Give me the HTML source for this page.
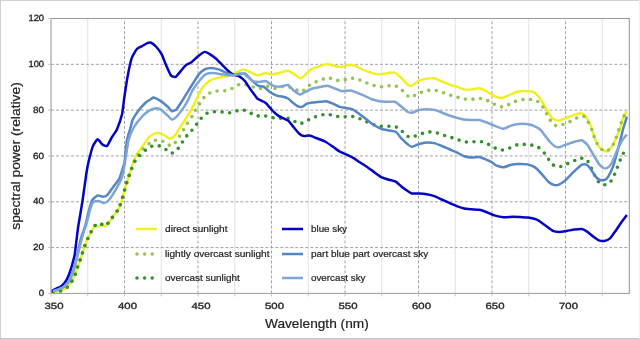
<!DOCTYPE html>
<html><head><meta charset="utf-8"><style>
html,body{margin:0;padding:0;background:#fff;}
svg{display:block;will-change:transform;}
text{font-family:"Liberation Sans",sans-serif;fill:#222;stroke:#222;stroke-width:0.2px;}
.tl{font-size:10px;stroke-width:0.35px;}
.lg{font-size:9.1px;}
.ax{font-size:12.6px;}
.gmaj{stroke:#a2a2a2;stroke-width:1;stroke-dasharray:3 1.985;fill:none;}
.gmin{stroke:#c4c4c4;stroke-width:1;stroke-dasharray:1 1;fill:none;}
.tick{stroke:#c4c4c4;stroke-width:1;}
.spine{stroke:#999;stroke-width:1;fill:none;}
.spine2{stroke:#909090;stroke-width:1;fill:none;}
path,line{fill:none;stroke-linejoin:round;}
.c_ds{stroke:#f0f01e;stroke-width:2.4;}
.c_bs{stroke:#0303c4;stroke-width:2.5;}
.c_pb{stroke:#5485c4;stroke-width:2.5;}
.c_ok{stroke:#7fa5d5;stroke-width:2.5;}
.c_lo{stroke:#92c44e;stroke-width:3.6;stroke-linecap:round;stroke-dasharray:0 7.6;}
.c_os{stroke:#34902a;stroke-width:3.6;stroke-linecap:round;stroke-dasharray:0 7.6;}
</style></head><body>
<svg width="640" height="339" viewBox="0 0 640 339">
<rect x="0" y="0" width="640" height="339" fill="#fff"/><line x1="0" y1="0.5" x2="640" y2="0.5" stroke="#d0d0d0"/><line x1="0.5" y1="0" x2="0.5" y2="339" stroke="#d0d0d0"/><line x1="0" y1="338.5" x2="640" y2="338.5" stroke="#c8c8c8"/><line x1="639.5" y1="0" x2="639.5" y2="339" stroke="#f0f0f0"/>
<line x1="87.75" y1="293.4" x2="87.75" y2="18.5" class="gmin"/><line x1="124.5" y1="293.4" x2="124.5" y2="18.5" class="gmaj"/><line x1="161.25" y1="293.4" x2="161.25" y2="18.5" class="gmin"/><line x1="198.0" y1="293.4" x2="198.0" y2="18.5" class="gmaj"/><line x1="234.75" y1="293.4" x2="234.75" y2="18.5" class="gmin"/><line x1="271.5" y1="293.4" x2="271.5" y2="18.5" class="gmaj"/><line x1="308.25" y1="293.4" x2="308.25" y2="18.5" class="gmin"/><line x1="345.0" y1="293.4" x2="345.0" y2="18.5" class="gmaj"/><line x1="381.75" y1="293.4" x2="381.75" y2="18.5" class="gmin"/><line x1="418.5" y1="293.4" x2="418.5" y2="18.5" class="gmaj"/><line x1="455.25" y1="293.4" x2="455.25" y2="18.5" class="gmin"/><line x1="492.0" y1="293.4" x2="492.0" y2="18.5" class="gmaj"/><line x1="528.75" y1="293.4" x2="528.75" y2="18.5" class="gmin"/><line x1="565.5" y1="293.4" x2="565.5" y2="18.5" class="gmaj"/><line x1="602.25" y1="293.4" x2="602.25" y2="18.5" class="gmin"/><line x1="51.0" y1="247.58" x2="629.3" y2="247.58" class="gmaj"/><line x1="51.0" y1="201.77" x2="629.3" y2="201.77" class="gmaj"/><line x1="51.0" y1="155.95" x2="629.3" y2="155.95" class="gmaj"/><line x1="51.0" y1="110.13" x2="629.3" y2="110.13" class="gmaj"/><line x1="51.0" y1="64.32" x2="629.3" y2="64.32" class="gmaj"/>
<g><path d="M53.00,292.50 C53.21,292.47 54.77,292.29 55.50,292.10 C56.23,291.91 60.71,290.72 61.75,290.25 C62.79,289.78 67.06,287.44 68.00,286.50 C68.94,285.56 72.27,280.41 73.00,279.00 C73.73,277.59 76.17,271.11 76.75,269.60 C77.33,268.09 79.43,262.28 79.90,260.90 C80.37,259.52 81.98,254.28 82.40,253.00 C82.82,251.72 84.43,246.84 84.90,245.60 C85.37,244.36 87.48,239.24 88.00,238.10 C88.52,236.96 90.52,232.94 91.10,231.90 C91.67,230.86 94.33,226.02 94.90,225.60 C95.48,225.18 97.43,227.00 98.00,226.90 C98.57,226.80 101.17,224.45 101.75,224.40 C102.33,224.35 104.28,226.46 104.90,226.25 C105.53,226.04 108.53,222.79 109.25,221.90 C109.97,221.01 112.87,216.59 113.60,215.60 C114.33,214.61 117.45,210.88 118.00,210.00 C118.55,209.12 119.78,206.29 120.20,205.10 C120.62,203.91 122.45,197.62 123.00,195.75 C123.55,193.88 126.12,184.63 126.75,182.60 C127.38,180.57 129.98,173.03 130.50,171.40 C131.02,169.77 132.52,164.37 133.00,163.00 C133.48,161.63 135.46,156.40 136.25,155.00 C137.04,153.60 141.46,147.71 142.50,146.25 C143.54,144.79 147.81,138.52 148.75,137.50 C149.69,136.48 152.92,134.37 153.75,134.00 C154.58,133.63 157.92,133.02 158.75,133.10 C159.58,133.18 162.81,134.53 163.75,135.00 C164.69,135.47 169.06,138.70 170.00,138.75 C170.94,138.80 174.17,136.54 175.00,135.60 C175.83,134.66 179.25,128.68 180.00,127.50 C180.75,126.33 183.12,122.86 184.00,121.50 C184.88,120.14 189.49,112.99 190.50,111.20 C191.51,109.41 195.16,101.89 196.10,100.00 C197.04,98.11 200.65,90.08 201.75,88.50 C202.85,86.92 207.85,81.91 209.25,81.00 C210.65,80.09 217.04,77.99 218.60,77.60 C220.16,77.21 226.59,76.72 228.00,76.30 C229.41,75.88 234.18,73.17 235.50,72.60 C236.82,72.02 242.58,69.40 243.90,69.40 C245.22,69.40 250.22,72.10 251.40,72.60 C252.58,73.10 256.82,75.36 258.00,75.40 C259.18,75.44 264.25,73.18 265.50,73.10 C266.75,73.02 271.75,74.44 273.00,74.40 C274.25,74.36 279.25,72.91 280.50,72.60 C281.75,72.29 286.82,70.55 288.00,70.70 C289.18,70.85 293.58,73.78 294.60,74.40 C295.62,75.03 299.34,78.12 300.20,78.20 C301.06,78.28 304.04,76.10 304.90,75.40 C305.76,74.70 309.33,70.50 310.50,69.75 C311.67,69.00 317.49,66.87 318.90,66.40 C320.31,65.93 326.07,64.13 327.40,64.10 C328.73,64.07 333.73,65.77 334.90,66.00 C336.07,66.23 340.31,66.98 341.40,66.90 C342.49,66.83 346.90,65.21 348.00,65.10 C349.10,64.99 353.35,65.21 354.60,65.60 C355.85,65.99 361.52,69.12 363.00,69.75 C364.48,70.38 370.99,72.71 372.40,73.10 C373.81,73.49 378.65,74.40 379.90,74.40 C381.15,74.40 386.15,73.25 387.40,73.10 C388.65,72.95 393.81,72.25 394.90,72.60 C395.99,72.95 399.41,76.24 400.50,77.25 C401.59,78.26 407.06,84.05 408.00,84.75 C408.94,85.45 410.81,86.05 411.75,85.70 C412.69,85.35 418.00,81.18 419.25,80.60 C420.50,80.02 425.50,78.95 426.75,78.75 C428.00,78.55 433.00,77.98 434.25,78.20 C435.50,78.42 440.50,80.88 441.75,81.40 C443.00,81.92 448.00,83.97 449.25,84.40 C450.50,84.83 455.50,86.18 456.75,86.60 C458.00,87.02 463.00,89.17 464.25,89.40 C465.50,89.63 470.50,89.49 471.75,89.40 C473.00,89.31 478.00,88.12 479.25,88.30 C480.50,88.47 485.50,90.84 486.75,91.50 C488.00,92.16 493.00,95.66 494.25,96.20 C495.50,96.74 500.50,98.09 501.75,98.00 C503.00,97.91 508.00,95.60 509.25,95.10 C510.50,94.60 515.44,92.34 516.75,92.00 C518.06,91.66 523.58,90.98 525.00,91.00 C526.42,91.02 532.48,91.58 533.75,92.20 C535.02,92.83 539.29,97.14 540.30,98.50 C541.31,99.86 544.88,106.84 545.90,108.50 C546.92,110.16 551.46,117.38 552.50,118.40 C553.54,119.42 557.27,120.73 558.40,120.70 C559.52,120.67 564.62,118.51 566.00,118.00 C567.38,117.49 573.75,115.00 575.00,114.60 C576.25,114.20 580.12,113.08 581.00,113.20 C581.88,113.32 584.78,115.17 585.50,116.00 C586.22,116.83 589.06,122.12 589.60,123.20 C590.14,124.28 591.62,127.89 592.00,129.00 C592.38,130.11 593.69,135.32 594.10,136.50 C594.51,137.68 596.36,142.08 596.90,143.10 C597.44,144.12 599.82,148.00 600.60,148.70 C601.38,149.40 605.31,151.66 606.25,151.50 C607.19,151.34 611.12,147.82 611.90,146.80 C612.68,145.78 614.98,140.70 615.60,139.30 C616.23,137.90 618.80,131.69 619.40,130.00 C620.00,128.31 622.16,120.55 622.75,119.00 C623.34,117.45 626.19,112.03 626.50,111.40" class="c_ds"/><path d="M53.00,292.00 C53.62,291.91 59.30,291.31 60.50,290.90 C61.70,290.49 66.43,287.93 67.40,287.10 C68.37,286.27 71.42,282.01 72.10,280.90 C72.77,279.79 75.03,274.95 75.50,273.75 C75.97,272.55 77.35,267.68 77.75,266.50 C78.15,265.32 79.86,260.73 80.25,259.60 C80.64,258.48 82.01,254.17 82.40,253.00 C82.79,251.83 84.43,246.84 84.90,245.60 C85.37,244.36 87.48,239.24 88.00,238.10 C88.52,236.96 90.52,232.94 91.10,231.90 C91.67,230.86 94.33,226.02 94.90,225.60 C95.48,225.18 97.43,227.00 98.00,226.90 C98.57,226.80 101.17,224.45 101.75,224.40 C102.33,224.35 104.28,226.46 104.90,226.25 C105.53,226.04 108.53,222.79 109.25,221.90 C109.97,221.01 112.87,216.59 113.60,215.60 C114.33,214.61 117.45,210.88 118.00,210.00 C118.55,209.12 119.78,206.29 120.20,205.10 C120.62,203.91 122.45,197.62 123.00,195.75 C123.55,193.88 126.12,184.63 126.75,182.60 C127.38,180.57 129.90,173.12 130.50,171.40 C131.10,169.68 133.38,163.37 134.00,162.00 C134.62,160.63 137.13,156.21 138.00,155.00 C138.87,153.79 143.35,148.54 144.40,147.50 C145.45,146.46 149.51,143.15 150.60,142.50 C151.69,141.85 156.33,139.80 157.50,139.75 C158.67,139.70 163.47,141.38 164.60,141.90 C165.72,142.42 170.01,146.05 171.00,146.00 C171.99,145.95 175.72,142.19 176.50,141.25 C177.28,140.31 179.74,135.81 180.40,134.75 C181.06,133.69 183.76,129.57 184.40,128.50 C185.04,127.43 187.43,122.95 188.10,121.90 C188.77,120.85 191.73,116.95 192.40,115.90 C193.07,114.85 195.45,110.40 196.10,109.30 C196.75,108.20 199.54,103.78 200.25,102.75 C200.96,101.72 203.70,97.78 204.60,96.90 C205.50,96.03 209.93,92.76 211.10,92.25 C212.27,91.74 217.38,90.88 218.60,90.75 C219.82,90.62 224.57,90.97 225.75,90.75 C226.93,90.53 231.57,88.63 232.70,88.10 C233.82,87.57 238.08,84.68 239.25,84.40 C240.42,84.12 245.58,84.53 246.75,84.75 C247.92,84.97 252.18,86.69 253.30,87.00 C254.43,87.31 259.07,88.56 260.25,88.50 C261.43,88.44 266.18,86.25 267.40,86.25 C268.62,86.25 273.65,88.47 274.90,88.50 C276.15,88.53 281.31,86.76 282.40,86.60 C283.49,86.44 286.94,86.37 288.00,86.60 C289.06,86.83 293.93,88.98 295.10,89.40 C296.28,89.83 301.05,91.93 302.10,91.70 C303.15,91.47 306.69,87.37 307.70,86.60 C308.71,85.83 313.16,83.04 314.25,82.50 C315.34,81.96 319.66,80.51 320.80,80.10 C321.94,79.69 326.70,77.60 327.90,77.60 C329.10,77.60 334.04,79.85 335.25,80.10 C336.46,80.35 341.21,80.76 342.40,80.60 C343.59,80.44 348.28,78.35 349.50,78.20 C350.72,78.05 355.80,78.44 357.00,78.75 C358.20,79.06 362.74,81.43 363.90,81.90 C365.06,82.37 369.72,84.01 370.90,84.40 C372.07,84.79 376.78,86.42 378.00,86.60 C379.22,86.78 384.25,86.72 385.50,86.60 C386.75,86.47 391.78,84.97 393.00,85.10 C394.22,85.22 399.08,87.38 400.10,88.10 C401.12,88.82 404.35,92.97 405.20,93.75 C406.05,94.53 409.27,97.47 410.25,97.50 C411.23,97.53 415.85,94.62 417.00,94.10 C418.15,93.58 422.80,91.64 424.00,91.30 C425.20,90.96 430.18,90.03 431.40,90.00 C432.62,89.97 437.38,90.59 438.60,90.90 C439.83,91.21 444.90,93.33 446.10,93.75 C447.30,94.17 451.83,95.65 453.00,96.00 C454.17,96.35 458.88,97.61 460.10,97.90 C461.32,98.19 466.37,99.41 467.60,99.50 C468.83,99.59 473.70,99.08 474.90,99.00 C476.10,98.92 480.82,98.31 482.00,98.50 C483.18,98.69 487.85,100.71 489.00,101.25 C490.15,101.79 494.61,104.52 495.75,105.00 C496.89,105.48 501.53,107.08 502.70,107.00 C503.87,106.92 508.63,104.62 509.80,104.10 C510.97,103.58 515.58,101.18 516.75,100.80 C517.92,100.42 522.69,99.61 523.90,99.50 C525.11,99.39 530.09,99.31 531.30,99.50 C532.51,99.69 537.38,101.11 538.40,101.80 C539.42,102.49 542.79,106.77 543.50,107.80 C544.21,108.83 546.31,113.12 546.90,114.20 C547.49,115.28 549.87,119.85 550.60,120.80 C551.33,121.75 554.68,125.29 555.70,125.60 C556.72,125.91 561.63,124.82 562.80,124.50 C563.97,124.18 568.57,122.33 569.70,121.80 C570.83,121.27 575.26,118.57 576.40,118.10 C577.54,117.62 582.43,115.79 583.40,116.10 C584.37,116.41 587.38,120.85 588.00,121.80 C588.62,122.75 590.39,126.28 590.90,127.50 C591.41,128.72 593.60,135.20 594.10,136.50 C594.60,137.80 596.36,142.08 596.90,143.10 C597.44,144.12 599.82,148.00 600.60,148.70 C601.38,149.40 605.31,151.66 606.25,151.50 C607.19,151.34 611.12,147.82 611.90,146.80 C612.68,145.78 614.98,140.87 615.60,139.30 C616.23,137.73 618.80,129.73 619.40,128.00 C620.00,126.27 622.16,119.88 622.75,118.50 C623.34,117.12 626.19,111.99 626.50,111.40" class="c_lo"/><path d="M53.00,291.50 C53.62,291.45 59.30,291.27 60.50,290.90 C61.70,290.53 66.43,287.93 67.40,287.10 C68.37,286.27 71.42,282.01 72.10,280.90 C72.77,279.79 75.03,274.95 75.50,273.75 C75.97,272.55 77.35,267.68 77.75,266.50 C78.15,265.32 79.86,260.73 80.25,259.60 C80.64,258.48 82.01,254.17 82.40,253.00 C82.79,251.83 84.43,246.84 84.90,245.60 C85.37,244.36 87.48,239.24 88.00,238.10 C88.52,236.96 90.52,232.94 91.10,231.90 C91.67,230.86 94.33,226.02 94.90,225.60 C95.48,225.18 97.43,227.00 98.00,226.90 C98.57,226.80 101.17,224.45 101.75,224.40 C102.33,224.35 104.28,226.46 104.90,226.25 C105.53,226.04 108.53,222.79 109.25,221.90 C109.97,221.01 112.87,216.59 113.60,215.60 C114.33,214.61 117.45,210.88 118.00,210.00 C118.55,209.12 119.78,206.29 120.20,205.10 C120.62,203.91 122.45,197.62 123.00,195.75 C123.55,193.88 126.12,184.63 126.75,182.60 C127.38,180.57 129.80,173.21 130.50,171.40 C131.20,169.59 134.34,162.33 135.20,160.90 C136.06,159.47 139.90,155.23 140.80,154.30 C141.70,153.37 145.03,150.44 146.00,149.75 C146.97,149.06 151.35,146.31 152.50,146.00 C153.65,145.69 158.60,145.69 159.75,146.00 C160.90,146.31 165.22,149.16 166.25,149.75 C167.28,150.34 171.13,153.18 172.10,153.10 C173.07,153.02 177.07,149.63 177.90,148.75 C178.73,147.87 181.38,143.54 182.10,142.50 C182.82,141.46 185.72,137.22 186.50,136.25 C187.28,135.28 190.60,131.85 191.40,130.90 C192.20,129.95 195.32,125.92 196.10,124.90 C196.88,123.88 199.94,119.64 200.80,118.70 C201.66,117.76 205.35,114.18 206.40,113.60 C207.45,113.02 212.19,111.90 213.40,111.75 C214.61,111.60 219.68,111.64 220.90,111.75 C222.12,111.86 226.78,113.15 228.00,113.10 C229.22,113.05 234.28,111.48 235.50,111.20 C236.72,110.92 241.42,109.59 242.60,109.70 C243.78,109.81 248.47,111.98 249.60,112.50 C250.72,113.02 254.96,115.65 256.10,115.90 C257.24,116.15 262.03,115.39 263.25,115.50 C264.47,115.61 269.55,116.93 270.75,117.20 C271.95,117.47 276.50,118.65 277.70,118.70 C278.90,118.75 284.00,117.67 285.20,117.75 C286.40,117.83 290.98,119.10 292.10,119.60 C293.23,120.10 297.59,123.56 298.70,123.75 C299.81,123.94 304.31,122.40 305.40,121.90 C306.49,121.40 310.68,118.25 311.80,117.75 C312.93,117.25 317.68,116.21 318.90,115.90 C320.12,115.59 325.17,114.03 326.40,114.00 C327.62,113.97 332.39,115.23 333.60,115.50 C334.81,115.77 339.67,117.14 340.90,117.20 C342.13,117.26 347.18,116.28 348.40,116.25 C349.62,116.22 354.33,116.49 355.50,116.80 C356.67,117.11 361.22,119.48 362.40,120.00 C363.57,120.52 368.43,122.53 369.60,123.00 C370.78,123.47 375.33,125.30 376.50,125.60 C377.67,125.90 382.38,126.55 383.60,126.60 C384.82,126.65 389.88,126.11 391.10,126.20 C392.32,126.29 397.18,127.12 398.25,127.70 C399.32,128.28 402.96,132.29 403.90,133.10 C404.84,133.91 408.46,137.19 409.50,137.40 C410.54,137.61 415.24,135.96 416.40,135.60 C417.56,135.24 422.19,133.42 423.40,133.10 C424.61,132.78 429.68,131.80 430.90,131.80 C432.12,131.80 436.82,132.78 438.00,133.10 C439.18,133.42 443.90,135.21 445.10,135.60 C446.30,135.99 451.19,137.41 452.40,137.80 C453.61,138.19 458.41,139.89 459.60,140.25 C460.79,140.61 465.48,141.97 466.70,142.10 C467.92,142.22 472.97,141.78 474.20,141.75 C475.43,141.72 480.30,141.53 481.50,141.75 C482.70,141.97 487.46,143.87 488.60,144.40 C489.74,144.93 494.06,147.63 495.20,148.10 C496.34,148.57 501.10,150.00 502.30,150.00 C503.50,150.00 508.40,148.53 509.60,148.10 C510.80,147.67 515.56,145.21 516.75,144.90 C517.94,144.59 522.69,144.39 523.90,144.40 C525.11,144.41 530.04,144.75 531.25,145.00 C532.46,145.25 537.35,146.78 538.40,147.40 C539.45,148.02 542.99,151.47 543.80,152.40 C544.61,153.33 547.38,157.58 548.10,158.60 C548.82,159.62 551.46,163.91 552.40,164.60 C553.34,165.29 558.23,166.94 559.40,166.90 C560.57,166.86 565.33,164.57 566.50,164.10 C567.67,163.63 572.27,161.75 573.40,161.25 C574.52,160.75 578.90,158.25 580.00,158.10 C581.10,157.95 585.74,158.73 586.60,159.40 C587.46,160.07 589.71,164.96 590.30,166.10 C590.89,167.24 593.18,171.97 593.70,173.10 C594.22,174.22 595.80,178.62 596.50,179.60 C597.20,180.58 601.05,184.58 602.10,184.90 C603.15,185.22 608.18,184.03 609.10,183.40 C610.02,182.78 612.61,178.50 613.20,177.40 C613.79,176.30 615.72,171.44 616.20,170.25 C616.68,169.06 618.53,164.27 619.00,163.10 C619.47,161.93 621.27,157.32 621.80,156.20 C622.33,155.07 625.10,150.15 625.40,149.60" class="c_os"/><path d="M51.75,290.90 C52.17,290.69 55.92,288.82 56.75,288.40 C57.58,287.98 60.92,286.63 61.75,285.90 C62.58,285.17 66.02,280.90 66.75,279.60 C67.48,278.30 69.98,271.76 70.50,270.25 C71.02,268.74 72.64,262.85 73.00,261.50 C73.36,260.15 74.38,256.79 74.80,254.00 C75.22,251.21 77.48,231.67 78.00,228.00 C78.52,224.33 80.61,212.38 81.00,210.00 C81.39,207.62 82.25,202.56 82.70,199.50 C83.15,196.44 85.92,176.38 86.40,173.25 C86.88,170.12 87.95,164.28 88.50,162.00 C89.05,159.72 92.23,147.79 93.00,145.90 C93.77,144.01 96.92,139.41 97.70,139.30 C98.48,139.19 101.62,144.05 102.40,144.60 C103.18,145.15 106.32,146.50 107.10,145.90 C107.88,145.30 110.93,138.78 111.75,137.40 C112.57,136.03 116.04,131.35 116.90,129.40 C117.76,127.45 121.50,116.53 122.10,114.00 C122.70,111.47 123.65,102.08 124.10,99.00 C124.55,95.92 126.87,80.41 127.50,77.00 C128.13,73.59 130.92,60.43 131.70,58.10 C132.48,55.77 136.03,50.00 136.90,49.00 C137.77,48.00 141.23,46.59 142.10,46.10 C142.97,45.61 146.54,43.38 147.30,43.10 C148.06,42.82 150.44,42.42 151.20,42.75 C151.96,43.08 155.53,46.05 156.40,47.00 C157.27,47.95 160.78,52.65 161.60,54.20 C162.42,55.75 165.47,63.83 166.25,65.60 C167.03,67.37 170.12,74.46 170.90,75.40 C171.68,76.34 174.82,77.22 175.60,76.90 C176.38,76.58 179.44,72.58 180.30,71.60 C181.16,70.62 184.97,65.88 185.90,65.10 C186.83,64.32 190.39,62.99 191.40,62.25 C192.41,61.51 196.90,57.11 198.00,56.25 C199.10,55.39 203.66,52.10 204.60,51.90 C205.54,51.70 208.37,53.25 209.30,53.80 C210.23,54.35 214.71,57.56 215.80,58.50 C216.89,59.44 221.38,64.08 222.40,65.10 C223.42,66.12 227.14,69.92 228.00,70.70 C228.86,71.48 231.76,73.93 232.70,74.40 C233.64,74.87 238.23,75.75 239.25,76.30 C240.27,76.85 243.96,79.91 244.90,81.00 C245.84,82.09 249.57,88.08 250.50,89.40 C251.43,90.73 255.48,96.10 256.10,96.90 C256.73,97.70 257.22,98.51 258.00,99.00 C258.78,99.49 264.25,101.73 265.50,102.75 C266.75,103.77 271.91,110.10 273.00,111.20 C274.09,112.30 277.35,115.12 278.60,115.90 C279.85,116.68 286.75,119.67 288.00,120.60 C289.25,121.53 292.66,126.01 293.60,127.10 C294.54,128.19 298.38,132.95 299.25,133.70 C300.12,134.45 303.14,135.94 304.00,136.10 C304.86,136.26 308.59,135.44 309.60,135.60 C310.61,135.76 314.78,137.49 316.10,138.00 C317.43,138.51 324.09,141.02 325.50,141.75 C326.91,142.48 331.82,145.99 333.00,146.80 C334.18,147.61 338.51,150.88 339.60,151.50 C340.69,152.12 344.93,153.75 346.10,154.30 C347.27,154.85 352.50,157.46 353.60,158.10 C354.70,158.74 358.15,161.28 359.25,162.00 C360.35,162.72 365.50,165.84 366.75,166.70 C368.00,167.56 373.00,171.41 374.25,172.30 C375.50,173.19 380.50,176.78 381.75,177.40 C383.00,178.03 388.08,179.44 389.25,179.80 C390.42,180.16 394.79,181.15 395.80,181.70 C396.81,182.25 400.38,185.60 401.40,186.40 C402.42,187.20 407.14,190.71 408.00,191.30 C408.86,191.89 410.81,193.32 411.75,193.50 C412.69,193.68 418.00,193.44 419.25,193.50 C420.50,193.56 425.50,194.03 426.75,194.25 C428.00,194.47 433.00,195.66 434.25,196.10 C435.50,196.54 440.50,198.93 441.75,199.50 C443.00,200.07 448.00,202.35 449.25,202.90 C450.50,203.45 455.50,205.63 456.75,206.10 C458.00,206.57 463.00,208.24 464.25,208.50 C465.50,208.76 470.50,209.14 471.75,209.25 C473.00,209.36 478.00,209.55 479.25,209.80 C480.50,210.05 485.50,211.78 486.75,212.25 C488.00,212.72 492.85,214.98 494.25,215.40 C495.65,215.82 502.04,217.19 503.60,217.30 C505.16,217.41 511.59,216.77 513.00,216.75 C514.41,216.73 519.25,217.04 520.50,217.10 C521.75,217.16 526.63,217.28 528.00,217.50 C529.37,217.72 535.53,219.10 536.90,219.70 C538.27,220.30 543.07,223.82 544.40,224.75 C545.73,225.68 551.55,230.30 552.80,230.90 C554.05,231.50 558.23,231.90 559.40,231.90 C560.57,231.90 565.65,231.09 566.90,230.90 C568.15,230.71 573.15,229.75 574.40,229.60 C575.65,229.45 580.81,228.91 581.90,229.10 C582.99,229.29 586.57,231.28 587.50,231.90 C588.43,232.53 592.16,235.90 593.10,236.60 C594.04,237.30 597.81,239.94 598.75,240.30 C599.69,240.66 603.46,241.06 604.40,240.90 C605.34,240.74 609.07,239.23 610.00,238.40 C610.93,237.57 614.66,232.22 615.60,230.90 C616.54,229.58 620.31,223.82 621.25,222.50 C622.19,221.18 626.43,215.62 626.90,215.00" class="c_bs"/><path d="M53.00,291.25 C53.42,291.11 57.06,290.00 58.00,289.60 C58.94,289.20 63.37,287.18 64.25,286.50 C65.13,285.82 67.87,282.70 68.60,281.50 C69.33,280.30 72.38,273.82 73.00,272.10 C73.62,270.38 75.68,262.57 76.10,260.90 C76.52,259.22 77.59,253.91 78.00,252.00 C78.41,250.09 80.38,240.25 81.00,238.00 C81.62,235.75 84.88,227.17 85.50,225.00 C86.12,222.83 87.95,214.05 88.50,212.00 C89.05,209.95 91.33,201.78 92.10,200.40 C92.87,199.02 96.84,195.71 97.70,195.40 C98.56,195.09 101.62,196.70 102.40,196.70 C103.18,196.70 106.07,196.26 107.00,195.40 C107.93,194.54 112.58,187.78 113.60,186.40 C114.62,185.03 118.47,180.47 119.25,178.90 C120.03,177.33 122.56,169.01 123.00,167.60 C123.44,166.19 124.17,164.30 124.50,162.00 C124.83,159.70 126.49,142.88 127.00,140.00 C127.51,137.12 130.14,129.17 130.60,127.50 C131.06,125.83 131.88,121.36 132.50,120.00 C133.12,118.64 136.92,112.64 138.00,111.20 C139.08,109.76 144.41,103.77 145.50,102.75 C146.59,101.73 150.43,99.44 151.10,99.00 C151.77,98.56 152.72,97.34 153.50,97.50 C154.28,97.66 159.29,100.11 160.50,100.90 C161.71,101.69 167.06,106.14 168.00,107.00 C168.94,107.86 171.05,111.01 171.75,111.20 C172.45,111.39 175.54,110.15 176.40,109.30 C177.26,108.45 181.08,102.58 182.10,101.00 C183.12,99.42 187.28,92.53 188.60,90.40 C189.92,88.27 196.67,77.15 198.00,75.40 C199.33,73.65 203.51,70.03 204.60,69.40 C205.69,68.78 209.93,67.90 211.10,67.90 C212.27,67.90 217.35,69.01 218.60,69.40 C219.85,69.79 224.92,72.13 226.10,72.60 C227.28,73.07 231.60,74.85 232.70,75.00 C233.80,75.15 238.23,74.53 239.25,74.40 C240.27,74.28 243.96,73.11 244.90,73.50 C245.84,73.89 249.41,78.08 250.50,79.10 C251.59,80.12 256.91,85.08 258.00,85.70 C259.09,86.33 262.58,86.05 263.60,86.60 C264.62,87.15 269.10,91.50 270.20,92.25 C271.30,93.00 275.77,95.25 276.75,95.60 C277.73,95.95 281.06,96.26 282.00,96.50 C282.94,96.74 287.19,98.06 288.00,98.50 C288.81,98.94 290.97,101.17 291.75,101.80 C292.53,102.43 296.54,105.67 297.40,106.10 C298.26,106.52 301.32,107.10 302.10,106.90 C302.88,106.70 305.89,104.08 306.75,103.70 C307.61,103.33 311.30,102.56 312.40,102.40 C313.50,102.24 318.73,101.90 319.90,101.80 C321.07,101.70 325.31,101.09 326.40,101.25 C327.49,101.41 331.90,103.23 333.00,103.70 C334.10,104.17 338.51,106.54 339.60,106.90 C340.69,107.26 345.01,107.80 346.10,108.00 C347.19,108.20 351.60,108.80 352.70,109.30 C353.80,109.80 358.08,113.14 359.25,114.00 C360.42,114.86 365.50,118.66 366.75,119.60 C368.00,120.54 373.00,124.47 374.25,125.25 C375.50,126.03 380.50,128.56 381.75,129.00 C383.00,129.44 388.08,130.27 389.25,130.50 C390.42,130.73 394.79,131.14 395.80,131.80 C396.81,132.46 400.38,137.34 401.40,138.40 C402.42,139.46 407.14,143.80 408.00,144.50 C408.86,145.20 410.81,146.84 411.75,146.80 C412.69,146.76 418.00,144.36 419.25,144.00 C420.50,143.64 425.50,142.57 426.75,142.50 C428.00,142.43 433.00,142.82 434.25,143.10 C435.50,143.38 440.50,145.39 441.75,145.90 C443.00,146.41 448.00,148.71 449.25,149.25 C450.50,149.79 455.50,151.82 456.75,152.40 C458.00,152.98 463.00,155.77 464.25,156.20 C465.50,156.62 470.50,157.43 471.75,157.50 C473.00,157.57 478.00,156.90 479.25,157.10 C480.50,157.30 485.74,159.49 486.75,159.90 C487.76,160.31 490.62,161.54 491.40,162.00 C492.18,162.46 495.08,164.96 496.10,165.40 C497.12,165.84 502.35,167.30 503.60,167.25 C504.85,167.20 509.85,165.08 511.10,164.80 C512.35,164.52 517.23,163.93 518.60,163.90 C519.97,163.87 526.13,164.11 527.50,164.40 C528.87,164.69 533.75,166.53 535.00,167.40 C536.25,168.28 541.41,173.72 542.50,174.90 C543.59,176.08 547.16,180.67 548.10,181.50 C549.04,182.33 552.89,184.62 553.75,184.90 C554.61,185.18 557.46,185.26 558.40,184.90 C559.34,184.54 563.67,181.74 565.00,180.60 C566.33,179.46 572.99,172.53 574.40,171.20 C575.81,169.87 580.88,165.15 581.90,164.60 C582.92,164.05 585.90,164.28 586.60,164.60 C587.30,164.92 589.60,167.46 590.30,168.40 C591.00,169.34 594.22,174.93 595.00,175.90 C595.78,176.87 598.92,179.66 599.70,180.00 C600.48,180.34 603.70,180.27 604.40,180.00 C605.10,179.73 607.32,178.08 608.10,176.80 C608.88,175.52 612.89,167.02 613.75,164.60 C614.61,162.18 617.62,150.72 618.40,147.75 C619.18,144.78 622.39,131.60 623.10,129.00 C623.81,126.40 626.58,117.63 626.90,116.60" class="c_pb"/><path d="M53.00,291.25 C53.42,291.11 57.06,290.00 58.00,289.60 C58.94,289.20 63.37,287.18 64.25,286.50 C65.13,285.82 67.87,282.70 68.60,281.50 C69.33,280.30 72.38,273.82 73.00,272.10 C73.62,270.38 75.64,262.57 76.10,260.90 C76.56,259.22 78.01,253.91 78.50,252.00 C78.99,250.09 81.29,240.50 82.00,238.00 C82.71,235.50 86.33,224.33 87.00,222.00 C87.67,219.67 89.50,211.64 90.00,210.00 C90.50,208.36 92.28,203.05 93.00,202.30 C93.72,201.55 97.74,200.95 98.60,201.00 C99.46,201.05 102.52,202.90 103.30,202.90 C104.08,202.90 106.98,202.07 108.00,201.00 C109.02,199.93 114.33,192.10 115.50,190.10 C116.67,188.10 121.22,179.26 122.00,177.00 C122.78,174.74 124.35,166.08 124.90,163.00 C125.45,159.92 127.86,142.96 128.60,140.00 C129.34,137.04 132.65,129.43 133.75,127.50 C134.85,125.57 140.46,118.21 141.75,116.80 C143.04,115.39 148.15,111.30 149.25,110.60 C150.35,109.90 153.96,108.51 154.90,108.40 C155.84,108.29 159.41,108.67 160.50,109.30 C161.59,109.92 167.06,115.04 168.00,115.90 C168.94,116.76 171.05,119.52 171.75,119.60 C172.45,119.67 175.46,117.73 176.40,116.80 C177.34,115.87 182.06,109.73 183.00,108.40 C183.94,107.08 186.91,102.40 187.70,100.90 C188.49,99.40 191.47,92.14 192.50,90.40 C193.53,88.66 198.92,81.33 200.00,80.00 C201.08,78.67 204.42,74.98 205.50,74.40 C206.58,73.83 211.59,73.10 213.00,73.10 C214.41,73.10 220.76,74.21 222.40,74.40 C224.04,74.59 231.30,75.48 232.70,75.40 C234.10,75.33 238.23,73.58 239.25,73.50 C240.27,73.42 243.80,73.78 244.90,74.40 C246.00,75.03 251.15,80.38 252.40,81.00 C253.65,81.62 258.81,81.90 259.90,81.90 C260.99,81.90 264.41,80.68 265.50,81.00 C266.59,81.32 271.75,85.23 273.00,85.70 C274.25,86.17 279.25,86.66 280.50,86.60 C281.75,86.54 286.91,84.68 288.00,85.00 C289.09,85.32 292.58,89.61 293.60,90.40 C294.62,91.19 299.26,94.35 300.20,94.50 C301.14,94.65 303.88,92.75 304.90,92.25 C305.92,91.75 311.15,88.94 312.40,88.50 C313.65,88.06 318.65,87.23 319.90,87.00 C321.15,86.77 326.15,85.58 327.40,85.70 C328.65,85.83 333.65,88.03 334.90,88.50 C336.15,88.97 341.07,91.14 342.40,91.30 C343.72,91.46 349.48,90.24 350.80,90.40 C352.12,90.56 356.97,92.66 358.30,93.20 C359.63,93.74 365.69,96.42 366.75,96.90 C367.81,97.38 370.06,98.67 371.00,99.00 C371.94,99.33 376.79,100.67 378.00,100.90 C379.21,101.13 384.09,101.72 385.50,101.80 C386.91,101.88 393.49,101.33 394.90,101.80 C396.31,102.27 401.31,106.55 402.40,107.40 C403.49,108.25 407.14,111.58 408.00,112.00 C408.86,112.42 411.76,112.67 412.70,112.50 C413.64,112.33 418.08,110.17 419.25,109.90 C420.42,109.63 425.50,109.30 426.75,109.30 C428.00,109.30 433.00,109.63 434.25,109.90 C435.50,110.17 440.50,112.03 441.75,112.50 C443.00,112.97 448.00,115.06 449.25,115.50 C450.50,115.94 455.50,117.41 456.75,117.75 C458.00,118.09 463.00,119.41 464.25,119.60 C465.50,119.79 470.50,119.97 471.75,120.00 C473.00,120.03 478.00,119.79 479.25,120.00 C480.50,120.21 485.50,122.03 486.75,122.50 C488.00,122.97 492.85,125.07 494.25,125.60 C495.65,126.12 502.20,128.80 503.60,128.80 C505.00,128.80 509.85,126.01 511.10,125.60 C512.35,125.19 517.34,124.03 518.60,123.90 C519.86,123.78 524.99,123.93 526.25,124.10 C527.51,124.27 532.55,125.41 533.75,125.90 C534.95,126.39 539.50,128.98 540.60,130.00 C541.70,131.02 546.07,137.06 546.90,138.10 C547.73,139.14 549.95,141.82 550.60,142.50 C551.25,143.18 553.97,145.86 554.70,146.25 C555.43,146.64 558.38,147.35 559.40,147.20 C560.42,147.05 565.65,144.85 566.90,144.40 C568.15,143.95 573.15,142.10 574.40,141.75 C575.65,141.40 580.81,139.98 581.90,140.25 C582.99,140.52 586.57,143.83 587.50,145.00 C588.43,146.17 592.16,152.74 593.10,154.30 C594.04,155.86 597.89,162.56 598.75,163.70 C599.61,164.84 602.70,167.64 603.40,168.00 C604.10,168.36 606.49,168.44 607.20,168.00 C607.91,167.56 611.04,164.28 611.90,162.75 C612.76,161.22 616.64,151.47 617.50,149.60 C618.36,147.72 621.42,141.50 622.20,140.25 C622.98,139.00 626.51,135.07 626.90,134.60" class="c_ok"/></g>
<line x1="50.5" y1="18.5" x2="629.8" y2="18.5" class="spine"/><line x1="50.5" y1="293.4" x2="629.8" y2="293.4" class="spine"/><line x1="51.0" y1="18.5" x2="51.0" y2="293.4" class="spine2"/><line x1="629.3" y1="18.5" x2="629.3" y2="293.4" class="spine2"/>
<line x1="51.0" y1="293.4" x2="51.0" y2="296.4" class="tick"/><line x1="87.75" y1="293.4" x2="87.75" y2="296.4" class="tick"/><line x1="124.5" y1="293.4" x2="124.5" y2="296.4" class="tick"/><line x1="161.25" y1="293.4" x2="161.25" y2="296.4" class="tick"/><line x1="198.0" y1="293.4" x2="198.0" y2="296.4" class="tick"/><line x1="234.75" y1="293.4" x2="234.75" y2="296.4" class="tick"/><line x1="271.5" y1="293.4" x2="271.5" y2="296.4" class="tick"/><line x1="308.25" y1="293.4" x2="308.25" y2="296.4" class="tick"/><line x1="345.0" y1="293.4" x2="345.0" y2="296.4" class="tick"/><line x1="381.75" y1="293.4" x2="381.75" y2="296.4" class="tick"/><line x1="418.5" y1="293.4" x2="418.5" y2="296.4" class="tick"/><line x1="455.25" y1="293.4" x2="455.25" y2="296.4" class="tick"/><line x1="492.0" y1="293.4" x2="492.0" y2="296.4" class="tick"/><line x1="528.75" y1="293.4" x2="528.75" y2="296.4" class="tick"/><line x1="565.5" y1="293.4" x2="565.5" y2="296.4" class="tick"/><line x1="602.25" y1="293.4" x2="602.25" y2="296.4" class="tick"/><line x1="48.0" y1="293.4" x2="51.0" y2="293.4" class="tick"/><line x1="48.0" y1="247.58" x2="51.0" y2="247.58" class="tick"/><line x1="48.0" y1="201.77" x2="51.0" y2="201.77" class="tick"/><line x1="48.0" y1="155.95" x2="51.0" y2="155.95" class="tick"/><line x1="48.0" y1="110.13" x2="51.0" y2="110.13" class="tick"/><line x1="48.0" y1="64.32" x2="51.0" y2="64.32" class="tick"/><line x1="48.0" y1="18.5" x2="51.0" y2="18.5" class="tick"/>
<text transform="translate(54.00,309) skewX(0.05) scale(1,0.9)" text-anchor="middle" class="tl" textLength="19.0" lengthAdjust="spacingAndGlyphs">350</text><text transform="translate(127.50,309) skewX(0.05) scale(1,0.9)" text-anchor="middle" class="tl" textLength="19.0" lengthAdjust="spacingAndGlyphs">400</text><text transform="translate(201.00,309) skewX(0.05) scale(1,0.9)" text-anchor="middle" class="tl" textLength="19.0" lengthAdjust="spacingAndGlyphs">450</text><text transform="translate(274.50,309) skewX(0.05) scale(1,0.9)" text-anchor="middle" class="tl" textLength="19.0" lengthAdjust="spacingAndGlyphs">500</text><text transform="translate(348.00,309) skewX(0.05) scale(1,0.9)" text-anchor="middle" class="tl" textLength="19.0" lengthAdjust="spacingAndGlyphs">550</text><text transform="translate(421.50,309) skewX(0.05) scale(1,0.9)" text-anchor="middle" class="tl" textLength="19.0" lengthAdjust="spacingAndGlyphs">600</text><text transform="translate(495.00,309) skewX(0.05) scale(1,0.9)" text-anchor="middle" class="tl" textLength="19.0" lengthAdjust="spacingAndGlyphs">650</text><text transform="translate(568.50,309) skewX(0.05) scale(1,0.9)" text-anchor="middle" class="tl" textLength="19.0" lengthAdjust="spacingAndGlyphs">700</text><text transform="translate(44.1,296.00) skewX(0.05) scale(1,0.9)" text-anchor="end" class="tl" textLength="5.4" lengthAdjust="spacingAndGlyphs">0</text><text transform="translate(44.1,250.18) skewX(0.05) scale(1,0.9)" text-anchor="end" class="tl" textLength="11.0" lengthAdjust="spacingAndGlyphs">20</text><text transform="translate(44.1,204.37) skewX(0.05) scale(1,0.9)" text-anchor="end" class="tl" textLength="11.0" lengthAdjust="spacingAndGlyphs">40</text><text transform="translate(44.1,158.55) skewX(0.05) scale(1,0.9)" text-anchor="end" class="tl" textLength="11.0" lengthAdjust="spacingAndGlyphs">60</text><text transform="translate(44.1,112.73) skewX(0.05) scale(1,0.9)" text-anchor="end" class="tl" textLength="11.0" lengthAdjust="spacingAndGlyphs">80</text><text transform="translate(44.1,66.92) skewX(0.05) scale(1,0.9)" text-anchor="end" class="tl" textLength="15.7" lengthAdjust="spacingAndGlyphs">100</text><text transform="translate(44.1,21.10) skewX(0.05) scale(1,0.9)" text-anchor="end" class="tl" textLength="15.7" lengthAdjust="spacingAndGlyphs">120</text>
<text x="265" y="328" class="ax" textLength="103.7" lengthAdjust="spacingAndGlyphs">Wavelength (nm)</text>
<text transform="translate(19.5,156) rotate(-90)" text-anchor="middle" class="ax" textLength="147.5" lengthAdjust="spacingAndGlyphs">spectral power (relative)</text>

<line x1="136" y1="229" x2="157" y2="229" class="c_ds"/>
<text x="165" y="232" class="lg" textLength="62.48" lengthAdjust="spacingAndGlyphs">direct sunlight</text>
<line x1="137" y1="254" x2="153" y2="254" class="c_lo" style="stroke-dasharray:0 7.6"/>
<text x="165" y="257" class="lg" textLength="104.49" lengthAdjust="spacingAndGlyphs">lightly overcast sunlight</text>
<line x1="137" y1="278" x2="153" y2="278" class="c_os" style="stroke-dasharray:0 7.6"/>
<text x="165" y="281" class="lg" textLength="74.88" lengthAdjust="spacingAndGlyphs">overcast sunlight</text>
<line x1="282" y1="229" x2="303" y2="229" class="c_bs"/>
<text x="311" y="232" class="lg" textLength="35.99" lengthAdjust="spacingAndGlyphs">blue sky</text>
<line x1="282" y1="254" x2="303" y2="254" class="c_pb"/>
<text x="311" y="257" class="lg" textLength="117.23" lengthAdjust="spacingAndGlyphs">part blue part overcast sky</text>
<line x1="282" y1="278" x2="303" y2="278" class="c_ok"/>
<text x="311" y="281" class="lg" textLength="54.44" lengthAdjust="spacingAndGlyphs">overcast sky</text>

</svg>
</body></html>
